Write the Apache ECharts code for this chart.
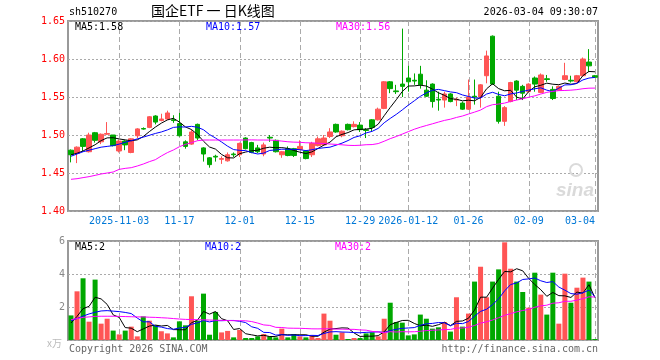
<!DOCTYPE html>
<html><head><meta charset="utf-8">
<script src="https://cdn.jsdelivr.net/npm/echarts@6/dist/echarts.min.js"></script>
<style>html,body{margin:0;padding:0;background:#fff}#c{width:660px;height:360px}</style>
</head><body><div id="c"></div>
<script>
const dates = [
'2025-10-22','2025-10-23','2025-10-24','2025-10-27','2025-10-28','2025-10-29','2025-10-30','2025-10-31',
'2025-11-03','2025-11-04','2025-11-05','2025-11-06','2025-11-07','2025-11-10','2025-11-11','2025-11-12','2025-11-13','2025-11-14',
'2025-11-17','2025-11-18','2025-11-19','2025-11-20','2025-11-21','2025-11-24','2025-11-25','2025-11-26','2025-11-27','2025-11-28',
'2025-12-01','2025-12-02','2025-12-03','2025-12-04','2025-12-05','2025-12-08','2025-12-09','2025-12-10','2025-12-11','2025-12-12',
'2025-12-15','2025-12-16','2025-12-17','2025-12-18','2025-12-19','2025-12-22','2025-12-23','2025-12-24','2025-12-25','2025-12-26',
'2025-12-29','2025-12-30','2025-12-31',
'2026-01-05','2026-01-06','2026-01-07','2026-01-08','2026-01-09','2026-01-12','2026-01-13','2026-01-14','2026-01-15','2026-01-16',
'2026-01-19','2026-01-20','2026-01-21','2026-01-22','2026-01-23','2026-01-26','2026-01-27','2026-01-28','2026-01-29','2026-01-30',
'2026-02-02','2026-02-03','2026-02-04','2026-02-05','2026-02-06','2026-02-09','2026-02-10','2026-02-11','2026-02-12','2026-02-13',
'2026-02-24','2026-02-25','2026-02-26','2026-02-27','2026-03-02','2026-03-03','2026-03-04'];
const labelDates = ['2025-11-03','2025-11-17','2025-12-01','2025-12-15','2025-12-29','2026-01-12','2026-01-26','2026-02-09','2026-03-04'];
const tickLabels = ['2025-11-03','11-17','12-01','12-15','12-29','2026-01-12','01-26','02-09','03-04'];

const openP = [1.480,1.476,1.495,1.478,1.503,1.491,1.501,1.500,1.479,1.492,
1.477,1.499,1.5085,1.510,1.525,1.519,1.521,1.520,1.515,1.491,
1.488,1.514,1.483,1.470,1.472,1.468,1.466,1.475,1.474,1.496,
1.490,1.483,1.475,1.497,1.493,1.474,1.482,1.482,1.481,1.479,
1.474,1.486,1.487,1.498,1.514,1.499,1.514,1.511,1.513,1.507,
1.520,1.520,1.535,1.570,1.558,1.567,1.575,1.572,1.580,1.559,
1.567,1.547,1.546,1.554,1.546,1.542,1.534,1.551,1.550,1.578,
1.630,1.551,1.518,1.544,1.571,1.564,1.557,1.575,1.556,1.574,
1.560,1.559,1.573,1.572,1.570,1.578,1.596,1.578];
const closeP = [1.474,1.484,1.485,1.500,1.493,1.501,1.502,1.486,1.492,1.487,
1.495,1.508,1.5078,1.524,1.517,1.521,1.529,1.519,1.499,1.485,
1.504,1.496,1.475,1.461,1.471,1.469,1.474,1.474,1.489,1.482,
1.477,1.478,1.487,1.496,1.478,1.478,1.473,1.473,1.485,1.469,
1.489,1.495,1.496,1.504,1.504,1.505,1.507,1.514,1.507,1.506,
1.510,1.534,1.570,1.561,1.557,1.564,1.570,1.571,1.566,1.551,
1.544,1.546,1.554,1.544,1.547,1.534,1.550,1.550,1.566,1.604,
1.567,1.518,1.536,1.569,1.559,1.555,1.567,1.567,1.579,1.573,
1.548,1.564,1.578,1.571,1.578,1.600,1.591,1.576];
const lowP = [1.464,1.463,1.478,1.477,1.490,1.488,1.500,1.485,1.477,1.480,
1.476,1.496,1.507,1.509,1.514,1.518,1.520,1.516,1.498,1.482,
1.487,1.493,1.465,1.457,1.465,1.462,1.465,1.471,1.471,1.481,
1.476,1.476,1.472,1.491,1.477,1.470,1.472,1.471,1.480,1.468,
1.471,1.485,1.486,1.496,1.503,1.497,1.506,1.510,1.504,1.496,
1.504,1.519,1.534,1.555,1.554,1.550,1.557,1.566,1.561,1.550,
1.536,1.532,1.536,1.543,1.538,1.533,1.533,1.540,1.536,1.568,
1.566,1.515,1.512,1.543,1.546,1.546,1.556,1.557,1.555,1.570,
1.546,1.558,1.572,1.569,1.569,1.577,1.583,1.575];
const highP = [1.481,1.485,1.496,1.503,1.504,1.502,1.517,1.500,1.494,1.493,
1.496,1.509,1.510,1.525,1.526,1.528,1.532,1.526,1.529,1.493,
1.507,1.515,1.484,1.471,1.474,1.472,1.477,1.477,1.490,1.497,
1.491,1.487,1.490,1.500,1.494,1.479,1.485,1.483,1.493,1.480,
1.491,1.498,1.500,1.509,1.515,1.506,1.515,1.518,1.517,1.509,
1.521,1.536,1.571,1.571,1.566,1.640,1.591,1.581,1.591,1.572,
1.568,1.557,1.557,1.555,1.549,1.544,1.573,1.573,1.567,1.611,
1.631,1.557,1.538,1.570,1.572,1.566,1.568,1.577,1.581,1.579,
1.564,1.565,1.595,1.578,1.579,1.602,1.613,1.579];
const volume = [1.49,2.95,3.74,1.11,3.66,0.99,1.29,0.57,0.34,0.57,
0.81,0.22,1.43,1.17,0.89,0.53,0.40,0.16,1.13,0.89,
2.65,1.17,2.81,0.32,1.70,0.46,0.55,0.16,0.61,0.12,
0.12,0.22,0.36,0.22,0.16,0.69,0.16,0.36,0.22,0.16,
0.26,0.12,1.60,1.17,0.32,0.46,0.06,0.12,0.12,0.40,
0.46,0.22,1.29,2.26,1.09,1.05,0.28,0.34,1.54,1.29,
0.69,0.77,1.09,0.51,2.59,0.81,1.60,3.54,4.44,2.59,
3.54,4.28,5.92,4.32,3.54,2.91,1.96,4.08,2.75,1.54,
4.08,0.99,4.02,2.26,3.17,3.78,3.54,0.06];

// moving-average values at the start (they depend on days before the window)
const ma5Head = [1.474,1.476,1.479,1.483];
const ma10Head = [1.472,1.475,1.478,1.480,1.482,1.484,1.485,1.486,1.488];
const ma30Head = [1.4417,1.4425,1.4439,1.4452,1.4469,1.4487,1.4500,1.4513,1.4548,1.4561,
1.4570,1.4592,1.4618,1.4649,1.4675,1.4724,1.4768,1.4803,1.4846,1.4877,
1.4899,1.4925,1.4934,1.4934,1.4934,1.4934,1.4934,1.4934,1.4934];
const volMa5Head = [1.03,1.43,1.90,2.04];
const volMa10Head = [1.17,1.30,1.45,1.58,1.68,1.76,1.78,1.75,1.72];
const volMa30Head = [1.23,1.30,1.37,1.40,1.43,1.44,1.44,1.44,1.43,1.42,
1.41,1.40,1.40,1.38,1.37,1.35,1.33,1.30,1.27,1.25,
1.24,1.23,1.22,1.21,1.20,1.19,1.18,1.17,1.17];

const headerCode = 'sh510270';
const headerTitle = '国企ETF 一 日K线图';
const headerTime = '2026-03-04 09:30:07';
const priceLegend = ['MA5:1.58','MA10:1.57','MA30:1.56'];
const volLegend = ['MA5:2','MA10:2','MA30:2'];

function ma(src, n, head) {
  return src.map((v, i) => {
    if (i < head.length) return head[i];
    let s = 0;
    for (let k = i - n + 1; k <= i; k++) s += src[k];
    return +(s / n).toFixed(4);
  });
}

const UP = '#ff5555', DOWN = '#00a800';
const MONO = '"DejaVu Sans Mono", monospace';
const candles = dates.map((d, i) => [openP[i], closeP[i], lowP[i], highP[i]]);
const volBars = volume.map((v, i) => ({ value: v, itemStyle: { color: closeP[i] >= openP[i] ? UP : DOWN } }));

const isLabel = (idx) => labelDates.indexOf(dates[idx]) >= 0;

const chart = echarts.init(document.getElementById('c'), null, { renderer: 'canvas' });
const lineS = (name, data, color, xi) => ({
  name, type: 'line', data, xAxisIndex: xi, yAxisIndex: xi, showSymbol: false, symbol: 'none',
  lineStyle: { color, width: 1 }, itemStyle: { color }, z: 5, animation: false, silent: true
});

chart.setOption({
  animation: false,
  backgroundColor: '#fff',
  grid: [
    { left: 68, right: 62, top: 21, height: 190, show: true, borderColor: '#999', borderWidth: 2, outerBoundsMode: 'none' },
    { left: 68, right: 62, top: 241, height: 99, show: true, borderColor: '#999', borderWidth: 2, outerBoundsMode: 'none' }
  ],
  xAxis: [
    { type: 'category', gridIndex: 0, data: dates, boundaryGap: true,
      axisLine: { show: false }, axisTick: { show: false },
      axisLabel: { interval: isLabel, formatter: v => tickLabels[labelDates.indexOf(v)] || '',
        color: '#0078d7', fontFamily: MONO, fontSize: 10, margin: 5, alignMaxLabel: 'right' },
      splitLine: { show: false } },
    { type: 'category', gridIndex: 1, data: dates, boundaryGap: true,
      axisLine: { show: false }, axisTick: { show: false }, axisLabel: { show: false },
      splitLine: { show: false } }
  ],
  yAxis: [
    { type: 'value', gridIndex: 0, min: 1.40, max: 1.65, interval: 0.05,
      axisLine: { show: false }, axisTick: { show: false },
      axisLabel: { color: '#ff0000', fontFamily: MONO, fontSize: 10, margin: 3, formatter: v => v.toFixed(2) },
      splitLine: { show: true, lineStyle: { color: '#aaa', type: [2, 2], width: 1 } } },
    { type: 'value', gridIndex: 1, min: 0, max: 6, interval: 2,
      axisLine: { show: false }, axisTick: { show: false },
      axisLabel: { color: '#888', fontFamily: MONO, fontSize: 10, margin: 3, formatter: v => v === 0 ? '' : String(v) },
      splitLine: { show: true, lineStyle: { color: '#aaa', type: [2, 2], width: 1 } } }
  ],
  series: [
    { name: 'K', type: 'candlestick', data: candles, xAxisIndex: 0, yAxisIndex: 0, barWidth: 5, z: 3,
      itemStyle: { color: UP, color0: DOWN, borderColor: UP, borderColor0: DOWN, borderWidth: 1 }, silent: true },
    lineS('MA5', ma(closeP, 5, ma5Head), '#000000', 0),
    lineS('MA10', ma(closeP, 10, ma10Head), '#0000ff', 0),
    lineS('MA30', ma(closeP, 30, ma30Head), '#ff00ff', 0),
    { name: 'VOL', type: 'bar', data: volBars, xAxisIndex: 1, yAxisIndex: 1, barWidth: 5, z: 3, silent: true },
    lineS('VMA5', ma(volume, 5, volMa5Head), '#000000', 1),
    lineS('VMA10', ma(volume, 10, volMa10Head), '#0000ff', 1),
    lineS('VMA30', ma(volume, 30, volMa30Head), '#ff00ff', 1)
  ]
});

// vertical dashed grid lines at the labelled dates, drawn as 1px dash rects placed by the chart's own scales
const g = [];
const panes = [[0, 1.65, 1.40], [1, 6, 0]];
panes.forEach(([gi, hi, lo]) => {
  const yt = chart.convertToPixel({ gridIndex: gi }, [0, hi])[1];
  const yb = chart.convertToPixel({ gridIndex: gi }, [0, lo])[1];
  labelDates.forEach(d => {
    const idx = dates.indexOf(d);
    const x = Math.round(chart.convertToPixel({ gridIndex: gi }, [idx, lo])[0]);
    if (!isFinite(x) || !isFinite(yt) || !isFinite(yb)) return;
    for (let y = Math.round(yt); y < yb; y += 8) {
      g.push({ type: 'rect', silent: true, z: 1, shape: { x: x, y: y, width: 1, height: Math.min(5, yb - y) },
        style: { fill: '#aaa' } });
    }
  });
});
g.push(
  { type: 'text', left: 69, top: 7, style: { text: headerCode, font: '10px ' + MONO, fill: '#000' } },
  { type: 'text', left: 151, top: 4, style: { text: headerTitle, font: '14px "Noto Sans CJK SC"', fill: '#000' } },
  { type: 'text', right: 62, top: 7, style: { text: headerTime, font: '10px ' + MONO, fill: '#000' } },
  { type: 'text', left: 75, top: 22, z: 10, style: { text: priceLegend[0], font: '10px ' + MONO, fill: '#000' } },
  { type: 'text', left: 206, top: 22, z: 10, style: { text: priceLegend[1], font: '10px ' + MONO, fill: '#0000ff' } },
  { type: 'text', left: 336, top: 22, z: 10, style: { text: priceLegend[2], font: '10px ' + MONO, fill: '#ff00ff' } },
  { type: 'text', left: 75, top: 242, z: 10, style: { text: volLegend[0], font: '10px ' + MONO, fill: '#000' } },
  { type: 'text', left: 205, top: 242, z: 10, style: { text: volLegend[1], font: '10px ' + MONO, fill: '#0000ff' } },
  { type: 'text', left: 335, top: 242, z: 10, style: { text: volLegend[2], font: '10px ' + MONO, fill: '#ff00ff' } },
  { type: 'text', left: 47, top: 338, style: { text: 'x万', font: '10px "Noto Sans CJK SC"', fill: '#bbb' } },
  { type: 'text', left: 69, top: 344, style: { text: 'Copyright 2026 SINA.COM', font: '10px ' + MONO, fill: '#666' } },
  { type: 'text', right: 62, top: 344, style: { text: 'http://finance.sina.com.cn', font: '10px ' + MONO, fill: '#666' } },
  { type: 'text', left: 556, top: 181, z: 0, style: { text: 'sina', font: 'italic bold 19px "Liberation Sans"', fill: '#dadada' } },
  { type: 'circle', z: 0, shape: { cx: 576, cy: 170, r: 6 }, style: { fill: 'none', stroke: '#dadada', lineWidth: 2 } }
);
chart.setOption({ graphic: g });
</script></body></html>
